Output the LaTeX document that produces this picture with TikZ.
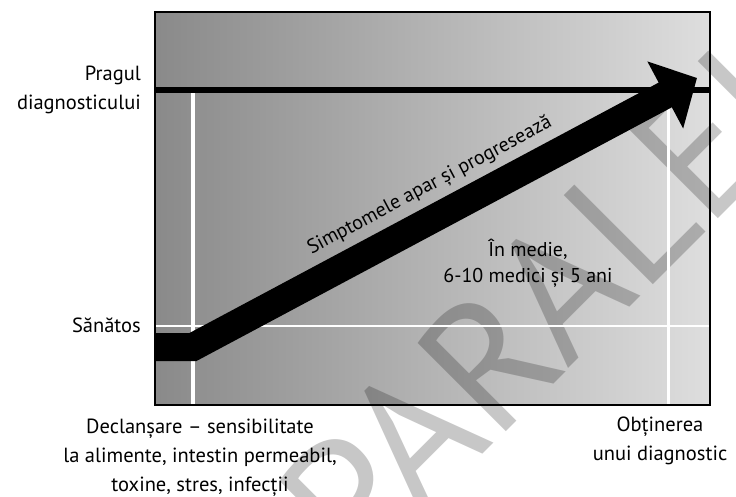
\documentclass[tikz,border=0pt]{standalone}
\usepackage{fontspec}
\setmainfont{PT Sans}
\usetikzlibrary{arrows.meta}
\tikzset{ lbl/.style={ font=\fontsize{20.5}{29}\selectfont, inner sep=0pt } }

\begin{document}
\begin{tikzpicture}[x=1pt,y=-1pt]
	\useasboundingbox (0,0) rectangle (736,497);
	%\draw[thick,dotted] (0,0) rectangle (736,497);
	\shade[left color=black!46, right color=black!13] (155,12) rectangle (710,405);
	\begin{scope}
		\clip (0,0) rectangle (736,497);
		\node[rotate=45, text=black, opacity=0.22, font=\fontsize{180}{180}\selectfont] (wm) at (592,255) {PARALELA};
	\end{scope}

	\draw[white, line width=4pt] (193,93) -- (193,405);
	\draw[white, line width=3pt] (668,93) -- (668,405);
	\draw[white, line width=2.5pt] (155,326) -- (710,326);
	\draw[black, line width=6pt] (155,90) -- (710,90);
	\draw[black, line width=1.8pt] (155,12) rectangle (710,405);

	\coordinate (start) at (155,347);
	\coordinate (bend) at (193,347);
	\coordinate (tip) at (697,78);
	\draw [line width=28pt, -{Triangle[length=36pt, width=74pt]}] (start) -- (bend) -- (tip);

	\node [lbl, align=right, anchor=east] (prag) at (141,90) {Pragul\\diagnosticului};
	\node [lbl, anchor=east] (san) at (141,325) {Sănătos};
	\node [lbl, align=center] (decl) at (200,458) {Declanșare – sensibilitate\\la alimente, intestin permeabil,\\toxine, stres, infecții};
	\node [lbl, align=center] (diag) at (660,441) {Obținerea\\unui diagnostic};
	\node [lbl, font=\fontsize{20}{22}\selectfont, rotate=28] (simpt) at (430,186) {Simptomele apar și progresează};
	\node [lbl, align=center, font=\fontsize{20}{26}\selectfont] (medie) at (528,263) {În medie,\\6-10 medici și 5 ani};
\end{tikzpicture}
\end{document}
